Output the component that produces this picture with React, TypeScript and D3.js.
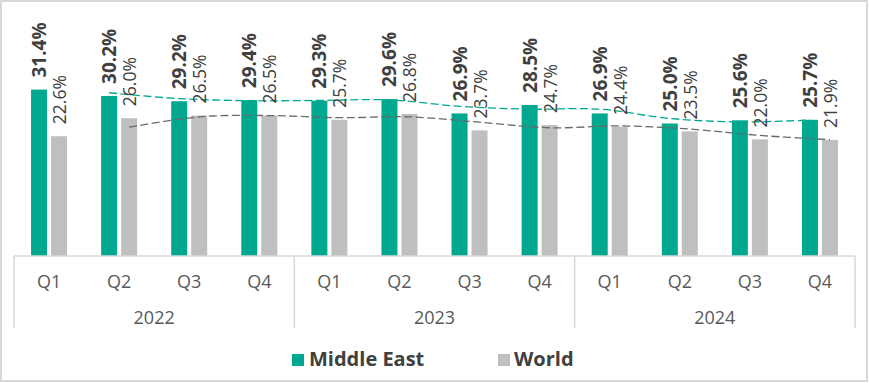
import React from "react";
import * as d3 from "d3";

const quarters = ["Q1", "Q2", "Q3", "Q4", "Q1", "Q2", "Q3", "Q4", "Q1", "Q2", "Q3", "Q4"];
const years = ["2022", "2023", "2024"];
const middleEast = [31.4, 30.2, 29.2, 29.4, 29.3, 29.6, 26.9, 28.5, 26.9, 25.0, 25.6, 25.7];
const world = [22.6, 26.0, 26.5, 26.5, 25.7, 26.8, 23.7, 24.7, 24.4, 23.5, 22.0, 21.9];
// 2-period moving-average trendlines as seen in the picture
const middleEastTrend = [null, 30.8, 29.7, 29.3, 29.35, 29.45, 28.25, 27.7, 27.7, 25.95, 25.3, 25.65];
const worldTrend = [null, 24.3, 26.25, 26.5, 26.1, 26.25, 25.25, 24.2, 24.55, 23.95, 22.75, 21.95];
const seriesNames = ["Middle East", "World"];

const W = 869;
const H = 383;
const TEAL = "#00A88F";
const GREY = "#BFBFBF";
const FONT = "'Open Sans', 'Noto Sans', sans-serif";

export default function App() {
  const idx = quarters.map((_, i) => i);
  const x = d3.scaleBand<number>().domain(idx).range([14, 855]).padding(0);
  const inner = d3
    .scaleBand<string>()
    .domain(seriesNames)
    .range([0, x.bandwidth()])
    .paddingInner(0.2)
    .paddingOuter(0.852);
  const y = d3.scaleLinear().domain([0, 35]).range([256, 70.5]);
  const bw = inner.bandwidth();

  const yearScale = d3.scaleBand<string>().domain(years).range([14, 855]);

  const lineGen = (series: string) =>
    d3
      .line<number | null>()
      .defined((d) => d !== null)
      .x((_, i) => (x(i) as number) + (inner(series) as number) + bw / 2)
      .y((d) => y(d as number))
      .curve(d3.curveCatmullRom.alpha(0.5));

  return (
    <svg
      width={W}
      height={H}
      style={{ position: "absolute", left: 0, top: 0, background: "#fff" }}
      fontFamily={FONT}
    >
      <rect x={1} y={1} width={W - 3} height={H - 3} fill="#fff" stroke="#D9D9D9" strokeWidth={2} />

      {/* bars */}
      {idx.map((i) => (
        <g key={"b" + i}>
          <rect
            x={(x(i) as number) + (inner("Middle East") as number)}
            y={y(middleEast[i])}
            width={bw}
            height={y(0) - y(middleEast[i])}
            fill={TEAL}
          />
          <rect
            x={(x(i) as number) + (inner("World") as number)}
            y={y(world[i])}
            width={bw}
            height={y(0) - y(world[i])}
            fill={GREY}
          />
        </g>
      ))}

      {/* trend lines */}
      <path
        d={lineGen("Middle East")(middleEastTrend) || ""}
        fill="none"
        stroke={TEAL}
        strokeWidth={1.3}
        strokeDasharray="8,3.5"
      />
      <path
        d={lineGen("World")(worldTrend) || ""}
        fill="none"
        stroke="#6A6A6A"
        strokeWidth={1.3}
        strokeDasharray="8,3.5"
      />

      {/* value labels */}
      {idx.map((i) => {
        const cxM = (x(i) as number) + (inner("Middle East") as number) + bw / 2;
        const cxW = (x(i) as number) + (inner("World") as number) + bw / 2;
        const tyM = y(middleEast[i]) - 12;
        const tyW = y(world[i]) - 12;
        return (
          <g key={"l" + i} fill="#404040">
            <text
              transform={`translate(${cxM},${tyM}) rotate(-90)`}
              dominantBaseline="central"
              fontSize={19}
              fontWeight={700}
            >
              {middleEast[i].toFixed(1) + "%"}
            </text>
            <text
              transform={`translate(${cxW},${tyW}) rotate(-90)`}
              dominantBaseline="central"
              fontSize={17.5}
            >
              {world[i].toFixed(1) + "%"}
            </text>
          </g>
        );
      })}

      {/* axis */}
      <line x1={14} x2={855} y1={256} y2={256} stroke="#D9D9D9" strokeWidth={1.5} />
      {[...years.map((yr) => yearScale(yr) as number), 855].map((xx, i) => (
        <line key={"s" + i} x1={xx} x2={xx} y1={256} y2={328} stroke="#D9D9D9" strokeWidth={1.5} />
      ))}
      {idx.map((i) => (
        <text
          key={"q" + i}
          x={(x(i) as number) + x.bandwidth() / 2}
          y={287.5}
          textAnchor="middle"
          fontSize={18}
          fill="#595959"
        >
          {quarters[i]}
        </text>
      ))}
      {years.map((yr) => (
        <text
          key={yr}
          x={(yearScale(yr) as number) + yearScale.bandwidth() / 2}
          y={324}
          textAnchor="middle"
          fontSize={18}
          fill="#595959"
        >
          {yr}
        </text>
      ))}

      {/* legend */}
      <rect x={292} y={354} width={12} height={12} fill={TEAL} />
      <text x={309} y={366} fontSize={20} fontWeight={700} fill="#404040">
        {seriesNames[0]}
      </text>
      <rect x={498} y={354} width={12} height={12} fill={GREY} />
      <text x={514} y={366} fontSize={20} fontWeight={700} fill="#404040">
        {seriesNames[1]}
      </text>
    </svg>
  );
}
